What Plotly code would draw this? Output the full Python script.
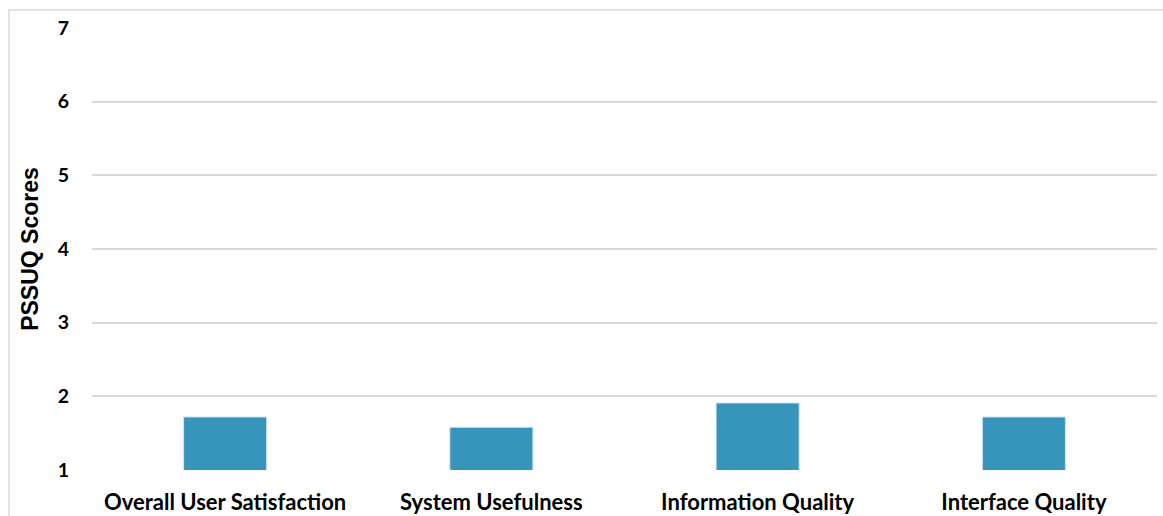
import plotly.graph_objects as go

categories = ["Overall User Satisfaction", "System Usefulness", "Information Quality", "Interface Quality"]
scores = [1.72, 1.58, 1.91, 1.72]
y_ticks = [1, 2, 3, 4, 5, 6, 7]

W, H = 1163, 516
ml, mr, mt, mb = 92, 6, 28, 46
pw = W - ml - mr
ph = H - mt - mb

fig = go.Figure(go.Bar(
    x=categories, y=scores,
    marker=dict(color="#3795bc", line=dict(color="#cfe6f0", width=1)),
    width=0.312,
))

fig.update_layout(
    width=W, height=H,
    margin=dict(l=ml, r=mr, t=mt, b=mb),
    plot_bgcolor="white", paper_bgcolor="white",
    showlegend=False,
    font=dict(family="Lato, Arial, sans-serif", color="black"),
    xaxis=dict(
        showgrid=False, showline=False, ticks="", automargin=False,
        tickfont=dict(family="Lato", size=22, color="black", weight="bold"),
        ticklabelstandoff=17,
    ),
    yaxis=dict(
        range=[1, 7], tickvals=y_ticks, automargin=False,
        showgrid=True, gridcolor="#d9d9d9", gridwidth=1.5,
        zeroline=False, showline=False, ticks="",
        tickfont=dict(family="Lato", size=19.5, color="black", weight="bold"),
        ticklabelstandoff=22,
        title=dict(text="<b>PSSUQ Scores</b>", font=dict(family="Liberation Sans, Arial", size=23, color="black"), standoff=12),
    ),
    shapes=[dict(
        type="rect", xref="paper", yref="paper",
        x0=(9 - ml) / pw, x1=1.2,
        y0=-0.3, y1=1 + (mt - 10) / ph,
        line=dict(color="#d9d9d9", width=1.5), fillcolor="rgba(0,0,0,0)", layer="below",
    )],
)

fig.write_html("out.html")
